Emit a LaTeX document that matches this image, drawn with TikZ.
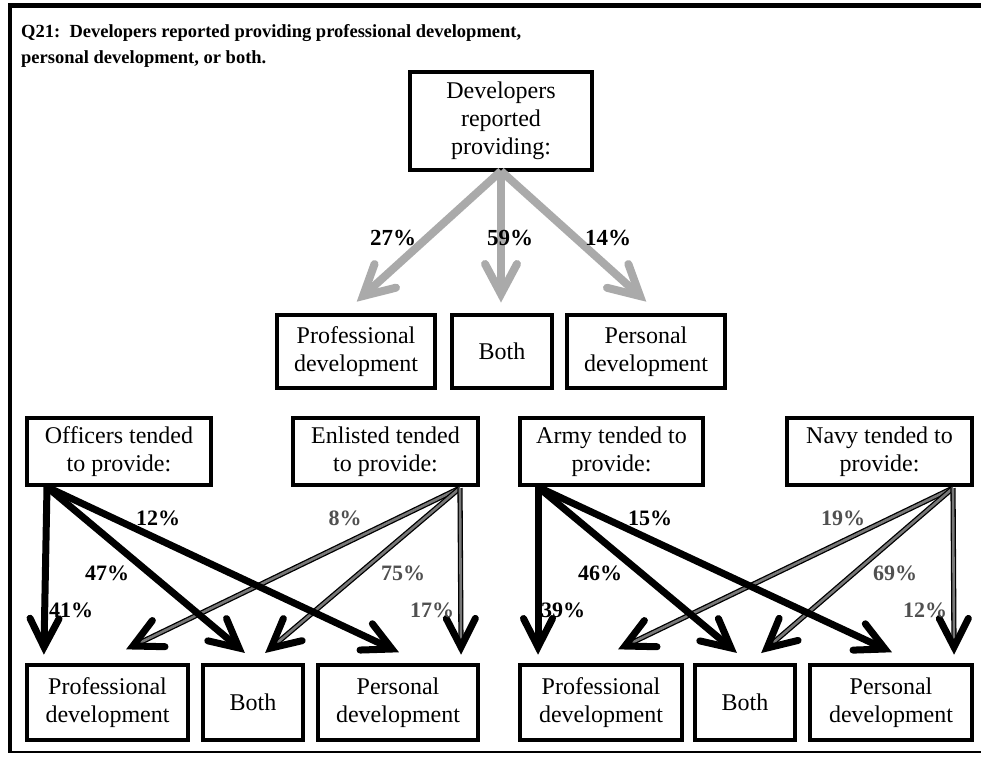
\documentclass[tikz,border=0pt]{standalone}
\usepackage{fontspec}
\setmainfont{Liberation Serif}
\usetikzlibrary{calc}
\definecolor{arrowgray}{RGB}{170,170,170}
\definecolor{dblgray}{RGB}{120,120,120}
\definecolor{lblgray}{RGB}{80,80,80}
\tikzset{
  box/.style={draw=black, line width=4pt, align=center, inner sep=0pt,
    font=\fontsize{24}{28}\selectfont},
  pct/.style={font=\bfseries\fontsize{22}{24}\selectfont, inner sep=0pt},
  pctbig/.style={font=\bfseries\fontsize{23}{26}\selectfont, inner sep=0pt},
  pctg/.style={pct, text=lblgray},
  grayshaft/.style={draw=arrowgray, line width=8pt},
  grayhead/.style={draw=arrowgray, line width=8pt, line cap=round, line join=miter},
  blkshaft/.style={draw=black, line width=7pt},
  blkhead/.style={draw=black, line width=7pt, line cap=round, line join=miter},
  dblshaft/.style={draw=black, line width=1.3pt, double=dblgray, double distance=2.6pt},
}
\begin{document}
\begin{tikzpicture}[x=1pt, y=-1pt]
\useasboundingbox (0,0) rectangle (981,756);
% frame
\draw[line width=5pt] (8,5.5) -- (981,5.5);
\draw[line width=4pt] (10,3) -- (10,753);
\draw[line width=1.5pt] (10,752) -- (981,752);
% title
\node[anchor=base west, inner sep=0pt, font=\bfseries\fontsize{18.5}{22}\selectfont] (t1) at (21,37) {Q21:\ \ Developers reported providing professional development,};
\node[anchor=base west, inner sep=0pt, font=\bfseries\fontsize{18.5}{22}\selectfont] (t2) at (21,63) {personal development, or both.};
% top part
\node[box, minimum width=182pt, minimum height=98pt] (dev) at (501,121) {Developers\\reported\\providing:};
\node[box, minimum width=158pt, minimum height=73pt] (mprof) at (356,351.5) {Professional\\development};
\node[box, minimum width=100pt, minimum height=73pt] (mboth) at (502,351.5) {Both};
\node[box, minimum width=158pt, minimum height=73pt] (mpers) at (646,351.5) {Personal\\development};
\coordinate (dO) at (501,171);
\coordinate (dT1) at (363,296);
\coordinate (dT2) at (501,294);
\coordinate (dT3) at (640,296);
\foreach \t in {dT1,dT2,dT3}{
  \draw[grayshaft] (dO) -- (\t);
  \draw[grayhead] ($(\t)!34pt!28:(dO)$) -- (\t) -- ($(\t)!34pt!-28:(dO)$);
}
\node[pctbig] (p27) at (393,238) {27\%};
\node[pctbig] (p59) at (510,238) {59\%};
\node[pctbig] (p14) at (608,238) {14\%};
% lower source boxes
\node[box, minimum width=184pt, minimum height=67pt] (off) at (119,451.5) {Officers tended\\to provide:};
\node[box, minimum width=185pt, minimum height=67pt] (enl) at (385.5,451.5) {Enlisted tended\\to provide:};
\node[box, minimum width=183pt, minimum height=67pt] (army) at (611.5,451.5) {Army tended to\\provide:};
\node[box, minimum width=185pt, minimum height=67pt] (navy) at (879.5,451.5) {Navy tended to\\provide:};
% bottom boxes
\node[box, minimum width=161pt, minimum height=75pt] (lprof) at (107.5,702.5) {Professional\\development};
\node[box, minimum width=100pt, minimum height=75pt] (lboth) at (253,702.5) {Both};
\node[box, minimum width=160pt, minimum height=75pt] (lpers) at (398,702.5) {Personal\\development};
\node[box, minimum width=162pt, minimum height=75pt] (rprof) at (601,702.5) {Professional\\development};
\node[box, minimum width=100pt, minimum height=75pt] (rboth) at (745,702.5) {Both};
\node[box, minimum width=162pt, minimum height=75pt] (rpers) at (891,702.5) {Personal\\development};
% origins and tips
\coordinate (oO) at (47,487);
\coordinate (oE) at (460,488);
\coordinate (oA) at (538,487);
\coordinate (oN) at (953,488);
\coordinate (tO1) at (44,647);
\coordinate (tO2) at (239,648);
\coordinate (tO3) at (392,649);
\coordinate (tE1) at (133,646);
\coordinate (tE2) at (271,648);
\coordinate (tE3) at (461,647);
\coordinate (tA1) at (538,647);
\coordinate (tA2) at (731,648);
\coordinate (tA3) at (885,649);
\coordinate (tN1) at (625,646);
\coordinate (tN2) at (767,648);
\coordinate (tN3) at (954,647);
% double (enlisted / navy) arrows
\foreach \o/\t in {oE/tE1, oE/tE2, oE/tE3, oN/tN1, oN/tN2, oN/tN3}{
  \draw[dblshaft] (\o) -- (\t);
  \draw[blkhead] ($(\t)!32pt!27:(\o)$) -- (\t) -- ($(\t)!32pt!-27:(\o)$);
}
% black (officers / army) arrows
\foreach \o/\t in {oO/tO1, oO/tO2, oO/tO3, oA/tA1, oA/tA2, oA/tA3}{
  \draw[blkshaft] (\o) -- (\t);
  \draw[blkhead] ($(\t)!32pt!27:(\o)$) -- (\t) -- ($(\t)!32pt!-27:(\o)$);
}
% labels
\node[pct] (l12) at (158,518) {12\%};
\node[pct] (l47) at (107,573) {47\%};
\node[pct] (l41) at (71,610) {41\%};
\node[pctg] (l8) at (345,518) {8\%};
\node[pctg] (l75) at (403,573) {75\%};
\node[pctg] (l17) at (432,610) {17\%};
\node[pct] (l15) at (650,518) {15\%};
\node[pct] (l46) at (600,573) {46\%};
\node[pct] (l39) at (563,610) {39\%};
\node[pctg] (l19) at (843,518) {19\%};
\node[pctg] (l69) at (895,573) {69\%};
\node[pctg] (l12b) at (925,610) {12\%};
\end{tikzpicture}
\end{document}
